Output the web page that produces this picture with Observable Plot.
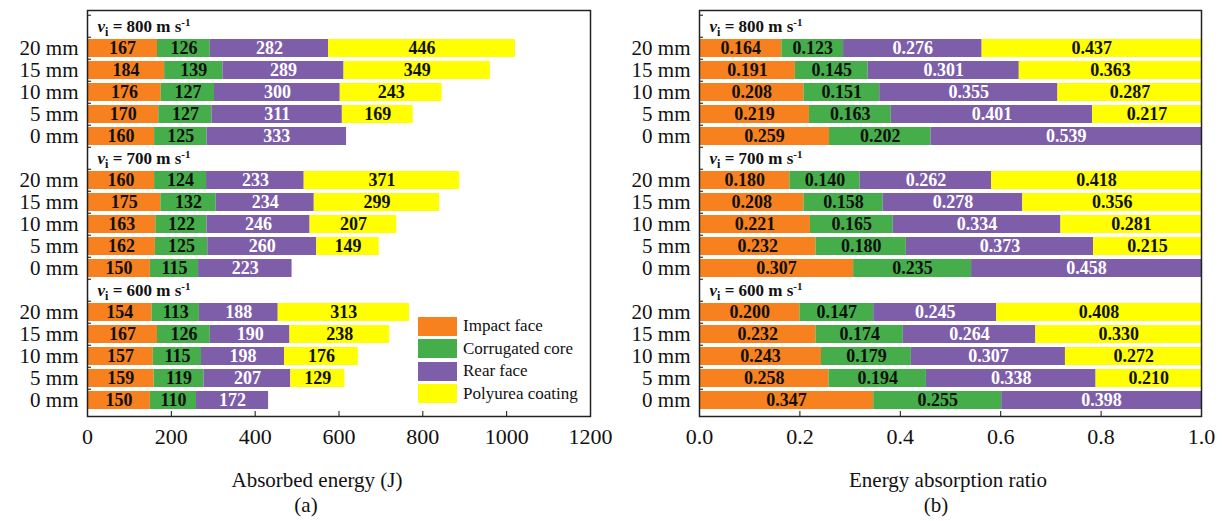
<!DOCTYPE html>
<html><head><meta charset="utf-8">
<script src="https://cdn.jsdelivr.net/npm/d3@7"></script>
<script src="https://cdn.jsdelivr.net/npm/@observablehq/plot@0.6"></script>
<style>
body{margin:0;background:#fff;}
#wrap{position:relative;width:1226px;height:521px;font-family:"Liberation Serif","Times New Roman",serif;overflow:hidden;background:#fff}
.panel{position:absolute;top:0}
.cap{position:absolute;font-size:21px;color:#111;transform:translateX(-50%);white-space:nowrap;line-height:22px;font-family:"Liberation Serif","Times New Roman",serif}
#legend{position:absolute;left:418px;top:316px}
#legend .lg-swatch{padding-bottom:2.5px !important;}
#legend .lg-swatch svg{margin-right:6px !important;}
</style></head><body><div id="wrap"></div>
<script>
// ---------- data ----------
const parts = ["Impact face", "Corrugated core", "Rear face", "Polyurea coating"];
const colors = ["#F7811E", "#45AE4A", "#7E5EA9", "#FFFF00"];
const velocities = ["800", "700", "600"];
const thicknesses = ["20 mm", "15 mm", "10 mm", "5 mm", "0 mm"];

// absorbed energy (J); rows follow thicknesses, columns follow parts (null = no coating)
const energy800 = [[167,126,282,446],[184,139,289,349],[176,127,300,243],[170,127,311,169],[160,125,333,null]];
const energy700 = [[160,124,233,371],[175,132,234,299],[163,122,246,207],[162,125,260,149],[150,115,223,null]];
const energy600 = [[154,113,188,313],[167,126,190,238],[157,115,198,176],[159,119,207,129],[150,110,172,null]];

// energy absorption ratio
const ratio800 = [[0.164,0.123,0.276,0.437],[0.191,0.145,0.301,0.363],[0.208,0.151,0.355,0.287],[0.219,0.163,0.401,0.217],[0.259,0.202,0.539,null]];
const ratio700 = [[0.180,0.140,0.262,0.418],[0.208,0.158,0.278,0.356],[0.221,0.165,0.334,0.281],[0.232,0.180,0.373,0.215],[0.307,0.235,0.458,null]];
const ratio600 = [[0.200,0.147,0.245,0.408],[0.232,0.174,0.264,0.330],[0.243,0.179,0.307,0.272],[0.258,0.194,0.338,0.210],[0.347,0.255,0.398,null]];

const energyTicks = [0, 200, 400, 600, 800, 1000, 1200];
const ratioTicks = [0, 0.2, 0.4, 0.6, 0.8, 1.0];

// ---------- build tables ----------
const slots = [];
velocities.forEach(v => { slots.push(v + "|label"); thicknesses.forEach(t => slots.push(v + "|" + t)); });
const groupLabels = velocities.map(v => ({slot: v + "|label", v, text: "vi = " + v + " m s-1"}));

function table(byVel, fmt) {
  const out = [];
  velocities.forEach((v, vi) => {
    byVel[vi].forEach((row, ri) => {
      let acc = 0;
      row.forEach((val, pi) => {
        if (val == null) return;
        out.push({slot: v + "|" + thicknesses[ri], part: parts[pi], value: val,
                  x1: acc, x2: acc + val, mid: acc + val / 2, label: fmt(val)});
        acc += val;
      });
    });
  });
  return out;
}
const energyData = table([energy800, energy700, energy600], d => String(d));
const ratioData = table([ratio800, ratio700, ratio600], d3.format(".3f"));

// ---------- panels ----------
const H = 445, MT = 10, MB = 29;
const step = (H - MT - MB) / slots.length;
const FONT = '"Liberation Serif", "Times New Roman", serif';

function panel({data, domain, ticks, tickFormat, width, marginLeft, marginRight}) {
  const inner = ticks.slice(1, -1);
  const svg = Plot.plot({
    width, height: H, marginTop: MT, marginBottom: MB, marginLeft, marginRight,
    style: {fontFamily: FONT, background: "transparent", overflow: "visible", color: "#111"},
    x: {domain, label: null},
    y: {domain: slots, padding: 0.2, label: null},
    color: {domain: parts, range: colors},
    marks: [
      Plot.barX(data, {x1: "x1", x2: "x2", y: "slot", fill: "part"}),
      Plot.text(data.filter(d => d.part !== "Rear face"), {x: "mid", y: "slot", text: "label", fill: "#111", fontWeight: "bold", fontSize: 18}),
      Plot.text(data.filter(d => d.part === "Rear face"), {x: "mid", y: "slot", text: "label", fill: "white", fontWeight: "bold", fontSize: 18}),
      Plot.text(groupLabels, {y: "slot", text: "text", frameAnchor: "left", textAnchor: "start", dx: 10, fontWeight: "bold", fontSize: 17, fill: "#111"}),
      Plot.axisX({ticks, tickFormat, tickSize: 0, tickPadding: 12, fontSize: 22, label: null}),
      Plot.axisX({ticks: inner, tickSize: 5, dy: -5, text: null, label: null, stroke: "#111"}),
      Plot.axisY({tickSize: 0, tickPadding: 9, fontSize: 21, label: null,
                  tickFormat: k => k.endsWith("|label") ? "" : k.split("|")[1]}),
      Plot.axisY({tickSize: 4, dx: 4, dy: -step / 2, text: null, label: null, stroke: "#111"}),
      Plot.frame({stroke: "#222", strokeWidth: 1.5})
    ]
  });
  // rich text for the velocity labels: italic v, subscript i, superscript -1
  d3.select(svg).selectAll("text").each(function() {
    const t = d3.select(this);
    const s = t.text();
    const m = /^vi = (\d+) m s-1$/.exec(s);
    if (!m) return;
    t.text(null);
    t.append("tspan").attr("font-style", "italic").text("v");
    t.append("tspan").attr("font-size", 12).attr("dy", 4).text("i");
    t.append("tspan").attr("dy", -4).text(" = " + m[1] + " m s");
    t.append("tspan").attr("font-size", 11).attr("dy", -6).text("-1");
  });
  return svg;
}

const wrap = document.getElementById("wrap");
const a = panel({data: energyData, domain: [0, 1200], ticks: energyTicks, tickFormat: d => String(d),
                 width: 600, marginLeft: 87, marginRight: 10});
a.classList.add("panel"); a.style.left = "0px";
wrap.appendChild(a);

const b = panel({data: ratioData, domain: [0, 1], ticks: ratioTicks, tickFormat: d3.format(".1f"),
                 width: 621, marginLeft: 94, marginRight: 25});
b.classList.add("panel"); b.style.left = "605px";
wrap.appendChild(b);

const leg = Plot.legend({color: {domain: parts, range: colors}, legend: "swatches", columns: 1,
  swatchWidth: 39, swatchHeight: 19, className: "lg",
  style: {fontSize: "17px", fontFamily: FONT, color: "#111"}});
const legDiv = document.createElement("div"); legDiv.id = "legend"; legDiv.appendChild(leg);
wrap.appendChild(legDiv);

function cap(text, x, y) {
  const d = document.createElement("div"); d.className = "cap"; d.textContent = text;
  d.style.left = x + "px"; d.style.top = y + "px"; wrap.appendChild(d);
}
cap("Absorbed energy (J)", 317, 469);
cap("(a)", 306, 494);
cap("Energy absorption ratio", 948, 469);
cap("(b)", 936, 494);
</script></body></html>
